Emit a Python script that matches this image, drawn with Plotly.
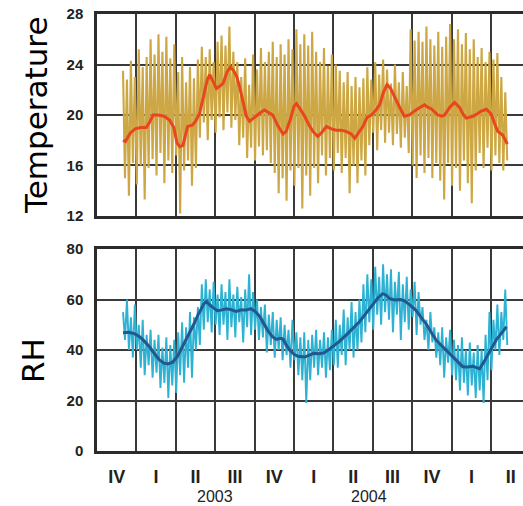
import plotly.graph_objects as go

# ---------------- data (quarters since start of Q4 2002) ----------------
sample_start = 0.66      # first sample (quarter index)
sample_step = 0.1        # spacing of the noise samples

temp_hi = [23.5, 22.8, 24.3, 23.0, 25.2, 23.8, 24.6, 26.0, 24.8, 26.4,
           25.0, 26.2, 24.5, 25.6, 23.4, 24.6, 22.6, 23.8, 22.9, 24.4,
           25.4, 24.6, 25.2, 24.2, 25.8, 26.3, 25.5, 27.0, 25.0, 24.2,
           23.0, 24.5, 22.4, 24.8, 23.6, 25.3, 24.2, 25.0, 25.8, 24.6,
           25.6, 24.8, 26.0, 25.2, 26.8, 25.6, 26.4, 25.5, 26.6, 25.0,
           24.2, 25.3, 23.9, 24.8, 24.0, 23.5, 22.6, 23.4, 22.3, 23.0,
           22.2, 22.9, 23.8, 22.8, 24.2, 23.2, 24.4, 23.6, 22.5, 24.0,
           22.6, 23.4, 22.3, 26.8, 25.9, 26.6, 25.8, 27.0, 26.0, 25.5,
           26.6, 25.4, 26.2, 27.2, 26.0, 26.8, 25.6, 26.5, 25.2, 26.0,
           24.6, 25.3, 24.2, 25.0, 24.4, 24.9, 23.0, 21.8]
temp_lo = [15.0, 13.6, 16.2, 14.5, 16.0, 13.3, 15.8, 16.5, 15.2, 17.0,
           14.6, 16.4, 15.4, 16.8, 12.2, 15.6, 16.4, 14.4, 15.8, 18.2,
           19.4, 18.0, 19.6, 18.6, 19.8, 18.8, 20.2, 19.0, 19.6, 17.6,
           18.2, 16.6, 17.4, 16.4, 17.5, 16.8, 17.2, 16.2, 15.4, 13.8,
           15.0, 13.2, 15.6, 14.4, 15.8, 12.6, 15.2, 13.6, 15.8, 14.6,
           16.8, 15.2, 16.6, 15.6, 17.0, 15.4, 16.6, 13.8, 16.0, 14.6,
           16.4, 15.2, 17.6, 18.6, 17.2, 18.8, 17.8, 18.6, 17.6, 18.5,
           17.4, 18.2, 17.0, 16.0, 15.0, 16.8, 15.4, 16.6, 15.0, 16.2,
           14.8, 13.3, 16.2, 14.4, 15.8, 14.0, 16.4, 14.6, 13.0, 15.6,
           17.0, 15.8, 17.4, 15.6, 16.8, 16.2, 15.6, 16.4]

rh_hi = [55, 60, 53, 58, 50, 52, 46, 48, 44, 46,
         41, 45, 42, 44, 47, 51, 49, 55, 53, 57,
         66, 68, 64, 67, 62, 66, 63, 68, 62, 65,
         61, 64, 70, 63, 60, 57, 58, 54, 55, 52,
         53, 50, 48, 52, 47, 45, 47, 44, 46, 48,
         44, 47, 45, 48, 52, 50, 56, 53, 59, 55,
         60, 66, 70, 68, 73, 69, 74, 70, 72, 67,
         71, 66, 69, 64, 67, 63, 57, 52, 55, 49,
         47, 49, 45, 48, 44, 42, 45, 40, 43, 39,
         42, 40, 46, 55, 52, 58, 55, 64]
rh_lo = [44, 40, 37, 40, 33, 30, 34, 29, 31, 25,
         27, 21, 26, 23, 30, 27, 33, 29, 40, 42,
         48, 51, 47, 50, 46, 50, 44, 49, 45, 51,
         43, 49, 46, 48, 44, 45, 39, 42, 37, 40,
         36, 38, 33, 36, 30, 28, 19, 28, 33, 30,
         33, 29, 32, 34, 33, 38, 34, 40, 37, 40,
         43, 47, 51, 48, 54, 50, 55, 52, 47, 54,
         44, 51, 48, 53, 46, 50, 44, 40, 43, 37,
         34, 29, 35, 30, 28, 24, 27, 22, 26, 21,
         24, 19, 28, 32, 40, 38, 44, 42]

temp_smooth_x = [0.66, 0.72, 0.85, 0.97, 1.1, 1.25, 1.33, 1.42, 1.55, 1.7, 1.84, 1.95,
                 2.03, 2.1, 2.18, 2.3, 2.42, 2.5, 2.6, 2.7, 2.8, 2.86, 2.95, 3.03, 3.12,
                 3.2, 3.3, 3.38, 3.47, 3.55, 3.62, 3.7, 3.79, 3.87, 3.95, 4.04, 4.15,
                 4.25, 4.35, 4.46, 4.58, 4.72, 4.8, 4.9, 5.0, 5.06, 5.15, 5.27, 5.38,
                 5.48, 5.6, 5.7, 5.82, 5.95, 6.07, 6.2, 6.32, 6.45, 6.54, 6.65, 6.75,
                 6.85, 6.96, 7.08, 7.17, 7.27, 7.36, 7.45, 7.55, 7.68, 7.8, 7.93, 8.05,
                 8.14, 8.31, 8.4, 8.48, 8.57, 8.65, 8.75, 8.82, 8.95, 9.07, 9.2, 9.3,
                 9.37, 9.45, 9.54, 9.65, 9.75, 9.88, 10.0, 10.08, 10.17, 10.3, 10.41]
temp_smooth = [18.0, 17.9, 18.6, 18.9, 19.0, 19.0, 19.4, 20.0, 20.0, 19.9, 19.6, 19.0,
               17.8, 17.5, 17.6, 19.1, 19.2, 19.5, 20.1, 21.5, 22.8, 23.2, 22.6, 22.1, 22.3,
               22.5, 23.4, 23.8, 23.5, 23.0, 22.2, 21.0, 19.9, 19.5, 19.7, 20.0, 20.2,
               20.4, 20.2, 20.0, 19.2, 18.5, 18.7, 19.6, 20.7, 20.9, 20.5, 19.9, 19.2,
               18.7, 18.3, 18.6, 19.1, 18.9, 18.8, 18.8, 18.7, 18.5, 18.15, 18.6, 19.1,
               19.8, 20.0, 20.4, 20.8, 21.8, 22.4, 22.1, 21.4, 20.6, 19.9, 20.0, 20.3,
               20.5, 20.8, 20.6, 20.5, 20.2, 20.0, 19.9, 20.0, 20.6, 21.0, 20.6, 20.0,
               19.75, 19.8, 19.9, 20.1, 20.3, 20.45, 20.1, 19.4, 18.7, 18.4, 17.7]

rh_smooth_x = [0.66, 0.8, 0.95, 1.08, 1.2, 1.33, 1.46, 1.59, 1.7, 1.8, 1.92, 2.05, 2.15,
               2.26, 2.37, 2.47, 2.56, 2.64, 2.72, 2.78, 2.85, 2.95, 3.05, 3.15, 3.28,
               3.4, 3.53, 3.65, 3.79, 3.9, 4.0, 4.12, 4.23, 4.34, 4.45, 4.55, 4.65,
               4.72, 4.8, 4.9, 5.0, 5.1, 5.27, 5.4, 5.5, 5.62, 5.75, 5.87, 5.99, 6.15,
               6.32, 6.5, 6.66, 6.83, 7.0, 7.12, 7.25, 7.33, 7.42, 7.55, 7.7, 7.8, 7.93,
               8.03, 8.1, 8.22, 8.35, 8.48, 8.61, 8.78, 8.95, 9.1, 9.28, 9.4, 9.54,
               9.63, 9.71, 9.8, 9.88, 10.0, 10.13, 10.26, 10.39]
rh_smooth = [46.8, 47.0, 46.5, 45.3, 43.5, 41.3, 38.5, 36.0, 34.8, 34.5, 35.2, 37.8, 40.8,
             44.0, 47.5, 50.6, 53.8, 56.5, 58.5, 59.2, 58.0, 56.8, 55.6, 55.8, 56.3,
             56.0, 55.3, 55.8, 55.8, 56.4, 55.5, 53.5, 50.5, 47.6, 45.3, 44.2, 44.6,
             44.3, 42.0, 39.8, 38.3, 37.5, 37.2, 38.0, 38.7, 38.5, 38.8, 40.0, 41.4, 43.4,
             45.9, 48.6, 51.2, 54.6, 57.8, 60.5, 62.3, 61.8, 60.4, 59.8, 60.0, 59.5, 58.0,
             56.5, 55.6, 53.0, 50.4, 47.0, 43.8, 41.2, 38.6, 36.0, 33.4, 33.3, 33.6,
             33.0, 32.6, 34.8, 36.9, 40.4, 44.0, 46.6, 49.2]

quarter_labels = ["IV", "I", "II", "III", "IV", "I", "II", "III", "IV", "I", "II"]
year_labels = ["2003", "2004"]
year_pos = [3.0, 6.9]

# ---------------- helpers ----------------
def zigzag(hi, lo):
    xs, ys = [], []
    for i, (h, l) in enumerate(zip(hi, lo)):
        t = sample_start + sample_step * i
        xs += [t, t + sample_step / 2]
        ys += [h, l]
    return xs, ys

tzx, tzy = zigzag(temp_hi, temp_lo)
rzx, rzy = zigzag(rh_hi, rh_lo)

GOLD = "#CDA743"
RED = "#E8461F"
CYAN = "#2EB2D4"
NAVY = "#23588F"
GRID = "#3a3a3a"
LINE = "#2b2b2b"

fig = go.Figure()
fig.add_trace(go.Scatter(x=tzx, y=tzy, mode="lines", line=dict(color=GOLD, width=2.1),
                         xaxis="x", yaxis="y", hoverinfo="skip"))
fig.add_trace(go.Scatter(x=temp_smooth_x, y=temp_smooth, mode="lines",
                         line=dict(color=RED, width=3), xaxis="x", yaxis="y"))
fig.add_trace(go.Scatter(x=rzx, y=rzy, mode="lines", line=dict(color=CYAN, width=1.9),
                         xaxis="x2", yaxis="y2", hoverinfo="skip"))
fig.add_trace(go.Scatter(x=rh_smooth_x, y=rh_smooth, mode="lines",
                         line=dict(color=NAVY, width=3), xaxis="x2", yaxis="y2"))

x_range = [0, 10.81]
tick_font = dict(family="Liberation Sans, Arial", size=15, color="#222", weight="bold")
roman_font = dict(family="Liberation Sans Narrow, Liberation Sans, Arial", size=18,
                  color="#222", weight="bold")

common_x = dict(range=x_range, showline=True, linecolor=LINE, linewidth=2.5, mirror=True,
                zeroline=False, ticks="")
common_y = dict(showline=True, linecolor=LINE, linewidth=2.5, zeroline=False, ticks="",
                showgrid=True, gridcolor=GRID, gridwidth=1.6, tickfont=tick_font,
                ticklabelstandoff=8)

fig.update_layout(
    width=523, height=506,
    margin=dict(l=97, r=0, t=14, b=55),
    paper_bgcolor="white", plot_bgcolor="white",
    showlegend=False,
    xaxis=dict(**common_x, domain=[0, 1], anchor="y", tick0=0, dtick=1,
               showgrid=True, gridcolor=GRID, gridwidth=1.6, showticklabels=False),
    yaxis=dict(**common_y, domain=[0.5378, 1], anchor="x", range=[12, 28],
               tick0=12, dtick=4),
    xaxis2=dict(**common_x, domain=[0, 1], anchor="y2", tickmode="array",
                tickvals=[i + 0.5 for i in range(len(quarter_labels))],
                ticktext=quarter_labels, showgrid=False, tickfont=roman_font,
                ticklabelstandoff=8,
                minor=dict(tickmode="array", tickvals=list(range(0, 11)),
                           showgrid=True, gridcolor=GRID, gridwidth=1.6, ticks="")),
    yaxis2=dict(**common_y, domain=[0, 0.4622], anchor="x2", range=[0, 80],
                tick0=0, dtick=20),
)

label_font = dict(family="DejaVu Sans, Liberation Sans", size=31, color="black")
fig.add_annotation(text="Temperature", textangle=-90, xref="paper", yref="paper",
                   x=-0.143, y=0.767, xanchor="center", yanchor="middle",
                   showarrow=False, font=label_font)
fig.add_annotation(text="RH", textangle=-90, xref="paper", yref="paper",
                   x=-0.15, y=0.206, xanchor="center", yanchor="middle",
                   showarrow=False, font=label_font)
for lab, pos in zip(year_labels, year_pos):
    fig.add_annotation(text=lab, xref="x2", yref="paper", x=pos, y=-0.105,
                       xanchor="center", yanchor="middle", showarrow=False,
                       font=dict(family="Liberation Sans, Arial", size=16, color="#222"))

fig.write_html("out.html")
